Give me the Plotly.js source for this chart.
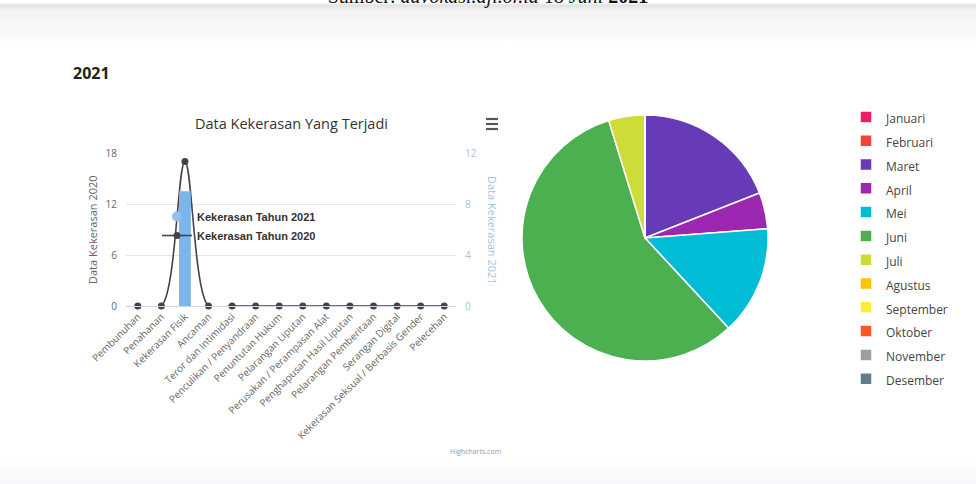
<!DOCTYPE html>
<html>
<head>
<meta charset="utf-8">
<script src="https://cdn.plot.ly/plotly-3.0.1.min.js"></script>
<style>
  html, body { margin: 0; padding: 0; }
  body {
    width: 976px; height: 484px; overflow: hidden; position: relative;
    background: linear-gradient(to bottom, #ffffff 0px, #ffffff 3px, #e2e2e2 5px, #f1f1f1 10px, #f7f7f7 20px, #f9f9f9 34px, #ffffff 42px, #ffffff 462px, #f9fafc 472px, #f6f8fb 484px);
  }
  #src {
    position: absolute; left: 0; width: 976px; top: -14px; text-align: center;
    font-family: "Liberation Serif", "DejaVu Serif", serif; font-size: 20px; line-height: 20px; color: #111;
  }
  #chart { position: absolute; left: 0; top: 0; width: 976px; height: 484px; }
</style>
</head>
<body>
<div id="src">Sumber: <i>advokasi.aji.or.id</i> 18 <i>Juni</i> <b>2021</b></div>
<div id="chart"></div>
<script>
// ---- data ----
const categories = ['Pembunuhan', 'Penahanan', 'Kekerasan Fisik', 'Ancaman', 'Teror dan Intimidasi',
  'Penculikan / Penyandraan', 'Penuntutan Hukum', 'Pelarangan Liputan', 'Perusakan / Perampasan Alat',
  'Penghapusan Hasil Liputan', 'Pelarangan Pemberitaan', 'Serangan Digital',
  'Kekerasan Seksual / Berbasis Gender', 'Pelecehan'];
const values2020 = [0, 0, 17, 0, 0, 0, 0, 0, 0, 0, 0, 0, 0, 0];
const values2021 = [0, 0, 9, 0, 0, 0, 0, 0, 0, 0, 0, 0, 0, 0];
const leftTicks = [0, 6, 12, 18];
const rightTicks = [0, 4, 8, 12];

const months = ['Januari', 'Februari', 'Maret', 'April', 'Mei', 'Juni', 'Juli', 'Agustus',
  'September', 'Oktober', 'November', 'Desember'];
const monthValues = [0, 0, 4, 1, 3, 12, 1, 0, 0, 0, 0, 0];
const monthColors = ['#e91e63', '#f44336', '#673ab7', '#9c27b0', '#00bcd4', '#4caf50', '#cddc39',
  '#ffc107', '#ffeb3b', '#ff5722', '#9e9e9e', '#607d8b'];

// ---- helpers ----
const W = 976, H = 484;
const px = v => v / W;
const py = v => 1 - v / H;

const traces = [
  {
    type: 'bar', x: categories, y: values2021, yaxis: 'y2', xaxis: 'x',
    marker: { color: '#7cb5ec' }, width: 0.5, showlegend: false,
    name: 'Kekerasan Tahun 2021', hoverinfo: 'x+y'
  },
  {
    type: 'scatter', x: [null], y: [null], mode: 'markers', name: 'Kekerasan Tahun 2021',
    marker: { color: '#8fc0ee', size: 10, symbol: 'circle' }, hoverinfo: 'skip'
  },
  {
    type: 'scatter', x: categories, y: values2020, mode: 'lines+markers', name: 'Kekerasan Tahun 2020',
    line: { color: '#434348', width: 1.6, shape: 'spline', smoothing: 0.9 },
    marker: { color: '#434348', size: 7 }, cliponaxis: false
  },
  {
    type: 'pie', labels: months.map(m => '<span style="font-size:12px">' + m + '</span>'),
    values: monthValues, sort: false, direction: 'clockwise', rotation: 0,
    marker: { colors: monthColors, line: { color: '#ffffff', width: 1.5 } },
    textinfo: 'none', hoverinfo: 'label+value',
    domain: { x: [px(522), px(768)], y: [py(361), py(115)] },
    legend: 'legend2'
  }
];

const ann = (text, x, y, font, extra) => Object.assign({
  text, x: px(x), y: py(y), xref: 'paper', yref: 'paper', xanchor: 'center', yanchor: 'middle',
  showarrow: false, font
}, extra || {});

const layout = {
  width: W, height: H,
  margin: { l: 0, r: 0, t: 0, b: 0 },
  paper_bgcolor: 'rgba(0,0,0,0)', plot_bgcolor: 'rgba(0,0,0,0)',
  font: { family: '"Open Sans", "DejaVu Sans", sans-serif', color: '#666' },
  showlegend: true,
  xaxis: {
    domain: [px(126), px(456)], type: 'category', range: [-0.5, 13.5],
    tickangle: -45, tickfont: { size: 10, color: '#666' },
    showgrid: false, showline: true, linecolor: '#ccd6eb', linewidth: 1,
    ticks: '', zeroline: false, fixedrange: true, anchor: 'y'
  },
  yaxis: {
    domain: [py(306), py(153)], range: [0, 18], tickvals: leftTicks,
    gridcolor: '#e6e6e6', zeroline: false, showline: false,
    tickfont: { size: 10, color: '#666' }, ticklabelstandoff: 8, fixedrange: true
  },
  yaxis2: {
    overlaying: 'y', side: 'right', anchor: 'x', range: [0, 12], tickvals: rightTicks,
    showgrid: false, zeroline: false, showline: false,
    tickfont: { size: 10, color: '#a7c4dc' }, ticklabelstandoff: 8, fixedrange: true
  },
  legend: {
    x: px(157), y: py(202), xanchor: 'left', yanchor: 'top',
    bgcolor: 'rgba(0,0,0,0)', traceorder: 'normal', itemwidth: 30,
    font: { family: '"Liberation Sans Narrow", "Liberation Sans", Arial, sans-serif', size: 11, color: '#333', weight: 'bold' }
  },
  legend2: {
    x: px(846), y: py(100), xanchor: 'left', yanchor: 'top',
    bgcolor: 'rgba(0,0,0,0)',
    font: { family: '"Open Sans", "DejaVu Sans", sans-serif', size: 16, color: '#444' }
  },
  annotations: [
    ann('Data Kekerasan Yang Terjadi', 291, 123, { size: 14.5, color: '#333' }),
    ann('Data Kekerasan 2020', 92, 230, { size: 11, color: '#666' }, { textangle: -90 }),
    ann('Data Kekerasan 2021', 493, 230, { size: 11, color: '#a7c4dc' }, { textangle: 90 }),
    ann('<b>2021</b>', 91, 73, { size: 16, color: '#222', family: '"Open Sans", sans-serif' }),
    ann('Highcharts.com', 475, 451, { size: 7, color: '#999' })
  ],
  shapes: [119, 124, 129].map(v => ({
    type: 'line', xref: 'paper', yref: 'paper',
    x0: px(486), x1: px(498), y0: py(v), y1: py(v),
    line: { color: '#555', width: 2.2 }
  }))
};

Plotly.newPlot('chart', traces, layout, { displayModeBar: false, staticPlot: true });
</script>
</body>
</html>
